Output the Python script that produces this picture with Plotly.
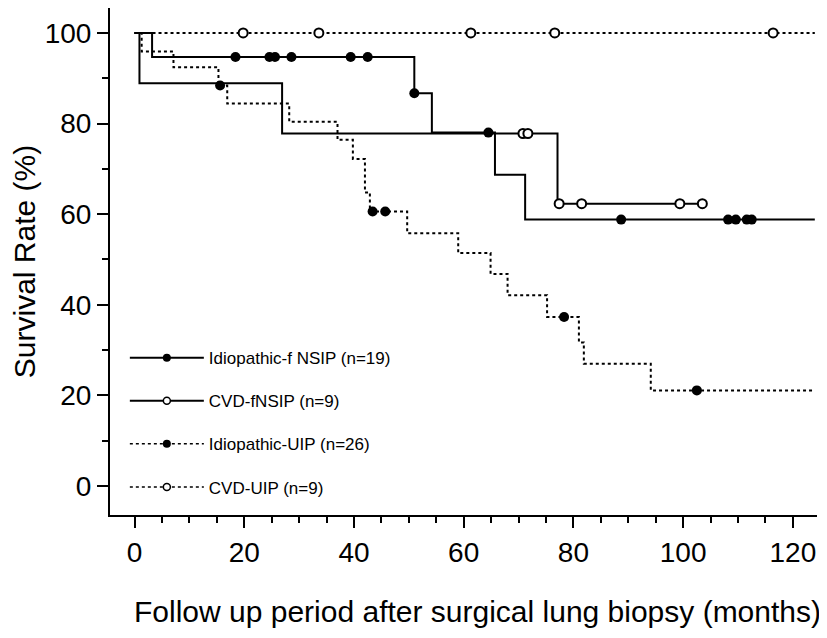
import plotly.graph_objects as go

# ---- data (months, survival %) ----
nsip_idio_t = [0, 3.2, 51.0, 54.2, 65.7, 71.2, 124]
nsip_idio_s = [100, 94.7, 86.7, 78.0, 68.7, 58.8, 58.8]
nsip_idio_cens_t = [18.4, 24.6, 25.6, 28.6, 39.4, 42.5, 51.0, 64.5, 88.7, 108.2, 109.6, 111.6, 112.5]
nsip_idio_cens_s = [94.7, 94.7, 94.7, 94.7, 94.7, 94.7, 86.7, 78.0, 58.8, 58.8, 58.8, 58.8, 58.8]

nsip_cvd_t = [0, 0.9, 26.9, 77.1, 103.5]
nsip_cvd_s = [100, 88.9, 77.8, 62.3, 62.3]
nsip_cvd_cens_t = [70.8, 71.7, 77.4, 81.5, 99.4, 103.5]
nsip_cvd_cens_s = [77.8, 77.8, 62.3, 62.3, 62.3, 62.3]

uip_idio_t = [0, 1.3, 7.1, 15.3, 16.9, 28.2, 37.0, 39.8, 42.0, 42.9, 49.7, 59.0, 64.9, 68.0, 75.2, 81.0, 81.9, 94.1, 124]
uip_idio_s = [100, 95.9, 92.4, 88.4, 84.4, 80.4, 76.4, 72.2, 64.8, 60.6, 55.8, 51.4, 46.8, 42.1, 37.3, 31.7, 27.0, 21.1, 21.1]
uip_idio_cens_t = [15.6, 43.4, 45.7, 78.3, 102.5]
uip_idio_cens_s = [88.4, 60.6, 60.6, 37.3, 21.1]

uip_cvd_t = [0, 124]
uip_cvd_s = [100, 100]
uip_cvd_cens_t = [19.8, 33.6, 61.3, 76.6, 116.4]
uip_cvd_cens_s = [100, 100, 100, 100, 100]

labels = ["Idiopathic-f NSIP (n=19)", "CVD-fNSIP (n=9)", "Idiopathic-UIP (n=26)", "CVD-UIP (n=9)"]

x_ticks = [0, 20, 40, 60, 80, 100, 120]
y_ticks = [0, 20, 40, 60, 80, 100]

x_title = "Follow up period after surgical lung biopsy (months)"
y_title = "Survival Rate (%)"

FONT = "Arial, Liberation Sans, sans-serif"

series = [
    (nsip_idio_t, nsip_idio_s, nsip_idio_cens_t, nsip_idio_cens_s, "solid", True),
    (nsip_cvd_t, nsip_cvd_s, nsip_cvd_cens_t, nsip_cvd_cens_s, "solid", False),
    (uip_idio_t, uip_idio_s, uip_idio_cens_t, uip_idio_cens_s, "dot", True),
    (uip_cvd_t, uip_cvd_s, uip_cvd_cens_t, uip_cvd_cens_s, "dot", False),
]

fig = go.Figure()
for i, (t, s, ct, cs, dash, filled) in enumerate(series):
    fig.add_trace(go.Scatter(
        x=t, y=s, mode="lines", line=dict(color="black", width=2, dash=dash, shape="hv"),
        showlegend=False, hoverinfo="skip"))
    marker = dict(symbol="circle", size=10 if filled else 9,
                  color="black" if filled else "white",
                  line=dict(color="black", width=0 if filled else 2))
    fig.add_trace(go.Scatter(x=ct, y=cs, mode="markers", marker=marker, showlegend=False))
    # legend entry
    lmarker = dict(symbol="circle", size=8 if filled else 7,
                   color="black" if filled else "white",
                   line=dict(color="black", width=0 if filled else 1.5))
    fig.add_trace(go.Scatter(
        x=[None], y=[None], mode="lines+markers", name=labels[i],
        line=dict(color="black", width=2 if dash == "solid" else 1.5, dash=dash),
        marker=lmarker, legendgroup=f"g{i}"))

axis_common = dict(
    showline=True, linecolor="black", linewidth=2, mirror=False,
    ticks="outside", tickwidth=2, tickcolor="black", ticklen=11,
    showgrid=False, zeroline=False, automargin=False,
    tickfont=dict(family=FONT, size=28, color="black"),
)

fig.update_xaxes(
    range=[-4.47, 124.4], tickvals=x_ticks,
    minor=dict(dtick=5, tick0=0, ticks="outside", ticklen=6, tickwidth=2, tickcolor="black", showgrid=False),
    **axis_common)
fig.update_yaxes(
    range=[-6.4, 105.5], tickvals=y_ticks,
    minor=dict(dtick=10, tick0=0, ticks="outside", ticklen=6, tickwidth=2, tickcolor="black", showgrid=False),
    title=dict(text=y_title, font=dict(family=FONT, size=30, color="black"), standoff=5),
    **axis_common)

fig.add_annotation(text=x_title, xref="paper", yref="paper", x=0.5205, y=-0.191,
                   xanchor="center", yanchor="middle", showarrow=False,
                   font=dict(family=FONT, size=30, color="black"))

# page body has an 8px default margin; figure size and margins compensate for it
fig.update_layout(
    width=819, height=630,
    margin=dict(l=102, r=10, t=0, b=123),
    paper_bgcolor="white", plot_bgcolor="white",
    showlegend=True,
    legend=dict(x=0.021, xanchor="left", y=0.345, yanchor="top",
                bgcolor="rgba(0,0,0,0)", borderwidth=0,
                font=dict(family=FONT, size=17, color="black"),
                itemwidth=74, traceorder="grouped", tracegroupgap=18),
)

fig.write_html("out.html")
